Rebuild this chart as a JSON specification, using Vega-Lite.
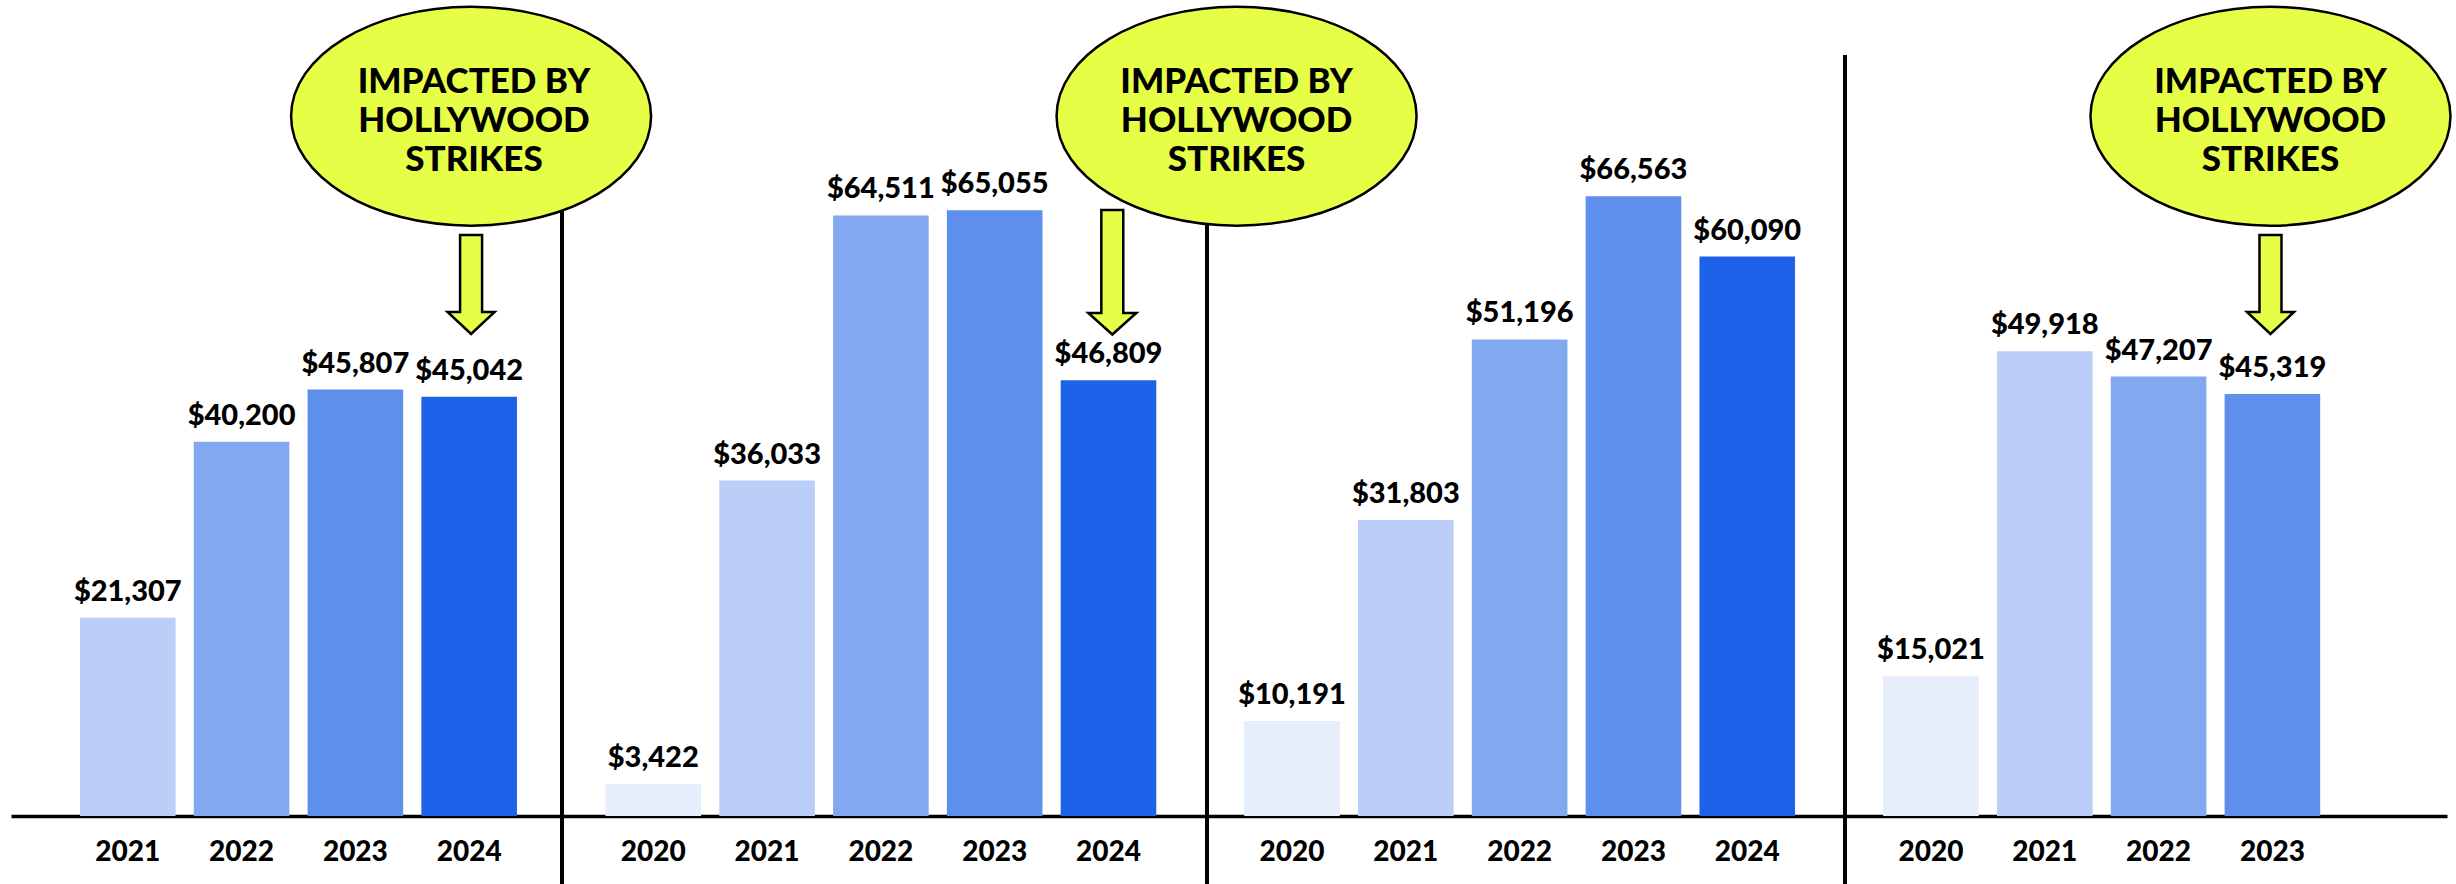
{
  "$schema": "https://vega.github.io/schema/vega-lite/v6.json",
  "background": "white",
  "padding": {"left": 11, "top": 0, "right": 0, "bottom": 0},
  "bounds": "flush",
  "spacing": 0,
  "config": {
    "view": {"stroke": null},
    "axisX": {"domainColor": "black", "domainWidth": 3.5, "ticks": false, "tickSize": 0, "labelFont": "Lato", "labelFontSize": 28, "labelFontWeight": 900, "labelColor": "black", "labelPadding": 22, "labelAngle": 0, "grid": false}
  },
  "datasets": {
    "revenue": [
      {"panel": "A", "year": "2021", "value": 21307, "strike": false},
      {"panel": "A", "year": "2022", "value": 40200, "strike": false},
      {"panel": "A", "year": "2023", "value": 45807, "strike": false},
      {"panel": "A", "year": "2024", "value": 45042, "strike": true},
      {"panel": "B", "year": "2020", "value": 3422, "strike": false},
      {"panel": "B", "year": "2021", "value": 36033, "strike": false},
      {"panel": "B", "year": "2022", "value": 64511, "strike": false},
      {"panel": "B", "year": "2023", "value": 65055, "strike": false},
      {"panel": "B", "year": "2024", "value": 46809, "strike": true},
      {"panel": "C", "year": "2020", "value": 10191, "strike": false},
      {"panel": "C", "year": "2021", "value": 31803, "strike": false},
      {"panel": "C", "year": "2022", "value": 51196, "strike": false},
      {"panel": "C", "year": "2023", "value": 66563, "strike": false},
      {"panel": "C", "year": "2024", "value": 60090, "strike": false},
      {"panel": "D", "year": "2020", "value": 15021, "strike": false},
      {"panel": "D", "year": "2021", "value": 49918, "strike": false},
      {"panel": "D", "year": "2022", "value": 47207, "strike": false},
      {"panel": "D", "year": "2023", "value": 45319, "strike": true}
    ]
  },
  "hconcat": [
    {
      "width": 551, "height": 816,
      "data": {"name": "revenue"},
      "transform": [{"filter": "datum.panel == 'A'"}],
      "encoding": {
        "x": {"field": "year", "type": "nominal", "sort": null, "scale": {"domain": ["2021", "2022", "2023", "2024"], "paddingInner": 0.16, "paddingOuter": 0.501, "align": 0.605}, "axis": {"title": null}}
      },
      "layer": [
        {"mark": {"type": "bar"}, "encoding": {
          "y": {"field": "value", "type": "quantitative", "scale": {"domain": [0, 87650], "nice": false, "zero": true}, "axis": null},
          "color": {"field": "year", "type": "nominal", "scale": {"domain": ["2020", "2021", "2022", "2023", "2024"], "range": ["#E6EDFB", "#BBCEF7", "#82A8F0", "#5F8FEC", "#1D62E8"]}, "legend": null}
        }},
        {"mark": {"type": "text", "font": "Lato", "fontSize": 29, "fontWeight": 900, "color": "black", "baseline": "alphabetic", "dy": -17}, "encoding": {
          "y": {"field": "value", "type": "quantitative"},
          "text": {"field": "value", "type": "quantitative", "format": "$,.0f"}
        }},
        {"transform": [{"filter": "datum.strike"}], "mark": {"type": "point", "shape": "M -1 0 A 1 0.608 0 1 0 1 0 A 1 0.608 0 1 0 -1 0 Z", "size": 129600, "filled": true, "fill": "#E6FE46", "stroke": "black", "strokeWidth": 2.5, "opacity": 1}, "encoding": {
          "x": {"field": "year", "type": "nominal", "bandPosition": 0.52},
          "y": {"datum": 75168, "type": "quantitative"}
        }},
        {"transform": [{"filter": "datum.strike"}], "mark": {"type": "text", "text": ["IMPACTED BY", "HOLLYWOOD", "STRIKES"], "font": "Lato", "fontSize": 35, "fontWeight": 900, "color": "black", "align": "center", "baseline": "alphabetic", "lineHeight": 39}, "encoding": {
          "x": {"field": "year", "type": "nominal", "bandPosition": 0.55},
          "y": {"datum": 77660, "type": "quantitative"}
        }},
        {"transform": [{"filter": "datum.strike"}], "mark": {"type": "point", "shape": "M -0.22 -1 L 0.22 -1 L 0.22 0.54 L 0.47 0.54 L 0 0.98 L -0.47 0.54 L -0.22 0.54 Z", "size": 10000, "filled": true, "fill": "#E6FE46", "stroke": "black", "strokeWidth": 2.5, "opacity": 1}, "encoding": {
          "x": {"field": "year", "type": "nominal", "bandPosition": 0.52},
          "y": {"datum": 57036, "type": "quantitative"}
        }}
      ]
    },
    {
      "width": 644.7, "height": 816,
      "layer": [
        {
          "data": {"name": "revenue"},
          "transform": [{"filter": "datum.panel == 'B'"}],
          "encoding": {
            "x": {"field": "year", "type": "nominal", "sort": null, "scale": {"domain": ["2020", "2021", "2022", "2023", "2024"], "paddingInner": 0.16, "paddingOuter": 0.4126, "align": 0.463}, "axis": {"title": null}}
          },
          "layer": [
            {"mark": {"type": "bar"}, "encoding": {
              "y": {"field": "value", "type": "quantitative", "scale": {"domain": [0, 87650], "nice": false, "zero": true}, "axis": null},
              "color": {"field": "year", "type": "nominal", "scale": {"domain": ["2020", "2021", "2022", "2023", "2024"], "range": ["#E6EDFB", "#BBCEF7", "#82A8F0", "#5F8FEC", "#1D62E8"]}, "legend": null}
            }},
            {"mark": {"type": "text", "font": "Lato", "fontSize": 29, "fontWeight": 900, "color": "black", "baseline": "alphabetic", "dy": -17}, "encoding": {
              "y": {"field": "value", "type": "quantitative"},
              "text": {"field": "value", "type": "quantitative", "format": "$,.0f"}
            }},
            {"transform": [{"filter": "datum.strike"}], "mark": {"type": "point", "shape": "M -1 0 A 1 0.608 0 1 0 1 0 A 1 0.608 0 1 0 -1 0 Z", "size": 129600, "filled": true, "fill": "#E6FE46", "stroke": "black", "strokeWidth": 2.5, "opacity": 1}, "encoding": {
              "x": {"field": "year", "type": "nominal", "bandPosition": 1.84},
              "y": {"datum": 75168, "type": "quantitative"}
            }},
            {"transform": [{"filter": "datum.strike"}], "mark": {"type": "text", "text": ["IMPACTED BY", "HOLLYWOOD", "STRIKES"], "font": "Lato", "fontSize": 35, "fontWeight": 900, "color": "black", "align": "center", "baseline": "alphabetic", "lineHeight": 39}, "encoding": {
              "x": {"field": "year", "type": "nominal", "bandPosition": 1.84},
              "y": {"datum": 77660, "type": "quantitative"}
            }},
            {"transform": [{"filter": "datum.strike"}], "mark": {"type": "point", "shape": "M -0.175 -1 L 0.175 -1 L 0.175 0.643 L 0.383 0.643 L 0 0.985 L -0.383 0.643 L -0.175 0.643 Z", "size": 15725, "filled": true, "fill": "#E6FE46", "stroke": "black", "strokeWidth": 2.5, "opacity": 1}, "encoding": {
              "x": {"field": "year", "type": "nominal", "bandPosition": 0.54},
              "y": {"datum": 58358, "type": "quantitative"}
            }}
          ]
        },
        {
          "data": {"values": [{"divider": "left"}]},
          "mark": {"type": "rule", "color": "black", "strokeWidth": 4},
          "encoding": {
            "x": {"datum": 0, "type": "quantitative", "scale": {"domain": [0, 1]}, "axis": null},
            "y": {"datum": 65093, "type": "quantitative"},
            "y2": {"datum": -7600}
          }
        }
      ],
      "resolve": {"scale": {"x": "independent"}, "axis": {"x": "independent"}}
    },
    {
      "width": 638, "height": 816,
      "layer": [
        {
          "data": {"name": "revenue"},
          "transform": [{"filter": "datum.panel == 'C'"}],
          "encoding": {
            "x": {"field": "year", "type": "nominal", "sort": null, "scale": {"domain": ["2020", "2021", "2022", "2023", "2024"], "paddingInner": 0.16, "paddingOuter": 0.383, "align": 0.427}, "axis": {"title": null}}
          },
          "layer": [
            {"mark": {"type": "bar"}, "encoding": {
              "y": {"field": "value", "type": "quantitative", "scale": {"domain": [0, 87650], "nice": false, "zero": true}, "axis": null},
              "color": {"field": "year", "type": "nominal", "scale": {"domain": ["2020", "2021", "2022", "2023", "2024"], "range": ["#E6EDFB", "#BBCEF7", "#82A8F0", "#5F8FEC", "#1D62E8"]}, "legend": null}
            }},
            {"mark": {"type": "text", "font": "Lato", "fontSize": 29, "fontWeight": 900, "color": "black", "baseline": "alphabetic", "dy": -17}, "encoding": {
              "y": {"field": "value", "type": "quantitative"},
              "text": {"field": "value", "type": "quantitative", "format": "$,.0f"}
            }}
          ]
        },
        {
          "data": {"values": [{"divider": "left"}]},
          "mark": {"type": "rule", "color": "black", "strokeWidth": 4},
          "encoding": {
            "x": {"datum": 0, "type": "quantitative", "scale": {"domain": [0, 1]}, "axis": null},
            "y": {"datum": 63697, "type": "quantitative"},
            "y2": {"datum": -7600}
          }
        }
      ],
      "resolve": {"scale": {"x": "independent"}, "axis": {"x": "independent"}}
    },
    {
      "width": 602, "height": 816,
      "layer": [
        {
          "data": {"name": "revenue"},
          "transform": [{"filter": "datum.panel == 'D'"}],
          "encoding": {
            "x": {"field": "year", "type": "nominal", "sort": null, "scale": {"domain": ["2020", "2021", "2022", "2023"], "paddingInner": 0.16, "paddingOuter": 0.725, "align": 0.2315}, "axis": {"title": null}}
          },
          "layer": [
            {"mark": {"type": "bar"}, "encoding": {
              "y": {"field": "value", "type": "quantitative", "scale": {"domain": [0, 87650], "nice": false, "zero": true}, "axis": null},
              "color": {"field": "year", "type": "nominal", "scale": {"domain": ["2020", "2021", "2022", "2023", "2024"], "range": ["#E6EDFB", "#BBCEF7", "#82A8F0", "#5F8FEC", "#1D62E8"]}, "legend": null}
            }},
            {"mark": {"type": "text", "font": "Lato", "fontSize": 29, "fontWeight": 900, "color": "black", "baseline": "alphabetic", "dy": -17}, "encoding": {
              "y": {"field": "value", "type": "quantitative"},
              "text": {"field": "value", "type": "quantitative", "format": "$,.0f"}
            }},
            {"transform": [{"filter": "datum.strike"}], "mark": {"type": "point", "shape": "M -1 0 A 1 0.608 0 1 0 1 0 A 1 0.608 0 1 0 -1 0 Z", "size": 129600, "filled": true, "fill": "#E6FE46", "stroke": "black", "strokeWidth": 2.5, "opacity": 1}, "encoding": {
              "x": {"field": "year", "type": "nominal", "bandPosition": 0.48},
              "y": {"datum": 75168, "type": "quantitative"}
            }},
            {"transform": [{"filter": "datum.strike"}], "mark": {"type": "text", "text": ["IMPACTED BY", "HOLLYWOOD", "STRIKES"], "font": "Lato", "fontSize": 35, "fontWeight": 900, "color": "black", "align": "center", "baseline": "alphabetic", "lineHeight": 39}, "encoding": {
              "x": {"field": "year", "type": "nominal", "bandPosition": 0.48},
              "y": {"datum": 77660, "type": "quantitative"}
            }},
            {"transform": [{"filter": "datum.strike"}], "mark": {"type": "point", "shape": "M -0.22 -1 L 0.22 -1 L 0.22 0.54 L 0.47 0.54 L 0 0.98 L -0.47 0.54 L -0.22 0.54 Z", "size": 10000, "filled": true, "fill": "#E6FE46", "stroke": "black", "strokeWidth": 2.5, "opacity": 1}, "encoding": {
              "x": {"field": "year", "type": "nominal", "bandPosition": 0.48},
              "y": {"datum": 57036, "type": "quantitative"}
            }}
          ]
        },
        {
          "data": {"values": [{"divider": "left"}]},
          "mark": {"type": "rule", "color": "black", "strokeWidth": 4},
          "encoding": {
            "x": {"datum": 0, "type": "quantitative", "scale": {"domain": [0, 1]}, "axis": null},
            "y": {"datum": 81742, "type": "quantitative"},
            "y2": {"datum": -7600}
          }
        }
      ],
      "resolve": {"scale": {"x": "independent"}, "axis": {"x": "independent"}}
    }
  ]
}
